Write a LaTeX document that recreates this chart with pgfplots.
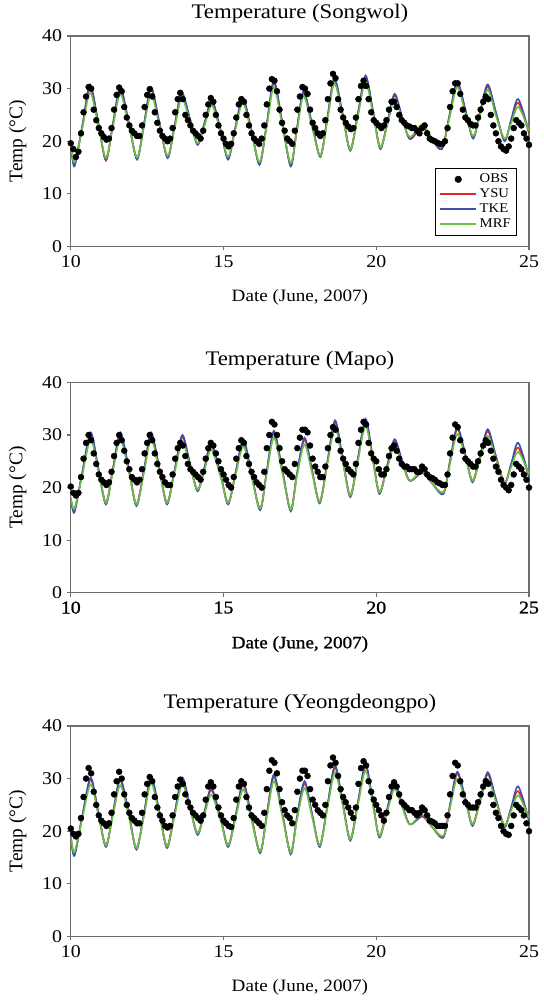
\documentclass[border=0pt]{standalone}
\usepackage{fontspec}
\setmainfont[FakeStretch=1.1]{Liberation Serif}
\newfontfamily\ylabelfont{Liberation Serif}
\newfontfamily\heavyfont[FakeStretch=1.1, FakeBold=1.2]{Liberation Serif}
\usepackage{pgfplots}
\usepackage{pgfplotstable}
\pgfplotsset{compat=1.18}
\definecolor{ysuRed}{RGB}{232,40,40}
\definecolor{tkeBlue}{RGB}{60,80,170}
\definecolor{mrfGreen}{RGB}{108,190,70}
\definecolor{frameGray}{RGB}{110,110,110}

% model runs, columns: day, YSU, TKE, MRF
\pgfplotstableread{
x ysu tke mrf
10.00 19.5 19.5 19.5
10.12 15.8 15.2 16.0
10.38 23.0 23.0 22.5
10.63 30.4 30.8 29.3
10.90 23.5 23.5 23.0
11.15 16.3 16.5 16.8
11.38 23.3 23.3 22.8
11.62 29.9 30.3 29.0
11.90 23.4 23.4 23.0
12.17 16.7 16.5 16.9
12.40 23.4 23.4 22.9
12.63 29.9 30.3 29.0
12.90 23.5 23.5 23.0
13.17 17.0 16.8 17.2
13.40 23.0 23.0 22.5
13.63 28.9 29.3 28.2
13.90 24.2 24.3 23.8
14.15 19.5 19.3 19.6
14.38 23.5 23.5 23.0
14.62 27.5 27.8 26.8
14.90 22.2 22.2 21.8
15.15 16.8 16.5 17.0
15.38 22.4 22.4 22.0
15.63 28.0 28.3 27.3
15.92 21.9 21.9 21.5
16.18 15.8 15.5 16.0
16.42 23.5 23.5 23.0
16.65 31.1 31.5 30.3
16.93 23.3 23.3 22.8
17.20 15.5 15.2 15.8
17.40 22.3 22.3 21.8
17.62 29.2 29.5 28.6
17.90 23.2 23.2 22.6
18.17 17.2 17.0 17.2
18.40 24.5 24.5 24.0
18.63 31.6 32.0 31.0
18.90 25.1 25.1 24.6
19.15 18.4 18.2 18.4
19.40 25.3 25.3 24.8
19.65 32.1 32.5 31.3
19.90 25.5 25.5 25.0
20.13 18.8 18.5 18.8
20.37 23.7 23.7 23.3
20.60 28.7 29.0 28.0
20.85 24.5 24.5 24.0
21.10 20.4 20.5 20.8
21.50 22.7 22.8 23.2
21.80 20.6 20.6 20.8
22.15 18.7 18.5 19.0
22.40 25.0 25.0 24.5
22.65 31.0 31.3 30.3
22.92 25.9 25.9 25.3
23.17 20.7 20.5 21.0
23.40 25.6 25.6 25.0
23.65 30.4 30.8 29.8
23.92 25.4 25.4 24.8
24.20 20.2 20.0 20.5
24.42 24.0 24.2 23.5
24.65 27.3 28.0 26.5
25.00 21.5 21.7 22.0
}\songwol

\pgfplotstableread{
x ysu tke mrf
10.00 18.0 18.0 18.2
10.12 15.7 15.3 16.0
10.38 23.0 23.0 22.5
10.65 30.1 30.5 29.2
10.90 23.7 23.7 23.2
11.15 17.1 16.8 17.1
11.38 23.6 23.6 23.1
11.62 30.1 30.5 29.2
11.90 23.5 23.5 23.0
12.15 16.8 16.5 16.8
12.40 23.5 23.5 23.0
12.63 30.1 30.5 29.2
12.90 23.6 23.6 23.1
13.15 17.1 16.8 17.1
13.40 23.4 23.4 22.9
13.65 29.6 30.0 28.7
13.90 24.6 24.6 24.1
14.15 19.6 19.3 19.6
14.38 23.9 23.9 23.4
14.60 28.1 28.5 27.2
14.90 22.6 22.6 22.1
15.15 17.1 16.8 17.1
15.40 23.0 23.0 22.5
15.65 28.8 29.2 27.9
15.92 22.4 22.4 21.9
16.20 16.0 15.7 16.0
16.42 23.3 23.3 22.8
16.65 30.4 30.8 29.5
16.93 23.1 23.1 22.6
17.20 15.8 15.5 15.8
17.40 22.5 22.5 22.0
17.65 29.1 29.5 28.2
17.90 23.2 23.2 22.7
18.15 17.3 17.0 17.3
18.40 24.9 24.9 24.4
18.65 32.4 32.8 31.5
18.90 25.5 25.5 25.0
19.15 18.5 18.2 18.5
19.40 25.6 25.6 25.1
19.65 32.7 33.1 31.8
19.88 25.9 25.9 25.4
20.10 19.1 18.8 19.1
20.35 24.0 24.0 23.5
20.60 28.8 29.2 27.9
20.85 25.0 25.0 24.5
21.10 21.3 21.3 21.3
21.50 22.8 23.0 23.2
21.80 21.0 21.0 21.0
22.20 19.1 18.8 19.1
22.42 25.2 25.2 24.7
22.65 31.1 31.5 30.2
22.92 26.2 26.2 25.7
23.15 21.3 21.0 21.3
23.40 26.0 26.0 25.5
23.65 30.7 31.1 29.8
23.92 25.9 25.9 25.4
24.20 21.0 20.7 21.0
24.42 24.5 24.6 24.0
24.65 27.6 28.5 26.8
25.00 22.0 22.0 22.5
}\mapo

\pgfplotstableread{
x ysu tke mrf
10.00 19.0 19.0 19.2
10.12 15.7 15.3 16.0
10.38 23.0 23.0 22.5
10.65 29.8 30.2 28.9
10.90 23.6 23.6 23.1
11.15 17.3 17.0 17.3
11.38 23.5 23.5 23.0
11.62 29.6 30.0 28.7
11.90 23.3 23.3 22.8
12.15 16.8 16.5 16.8
12.40 23.5 23.5 23.0
12.63 30.1 30.5 29.2
12.90 23.6 23.6 23.1
13.15 17.1 16.8 17.1
13.40 23.5 23.5 23.0
13.65 29.8 30.2 28.9
13.90 24.7 24.7 24.2
14.15 19.6 19.3 19.6
14.38 23.8 23.8 23.3
14.60 27.8 28.2 26.9
14.90 22.6 22.6 22.1
15.15 17.3 17.0 17.3
15.40 23.1 23.1 22.6
15.65 28.9 29.3 28.0
15.92 22.5 22.5 22.0
16.20 16.1 15.8 16.1
16.42 23.3 23.3 22.8
16.65 30.4 30.8 29.5
16.93 23.2 23.2 22.7
17.20 15.9 15.6 15.9
17.40 22.5 22.5 22.0
17.65 29.1 29.5 28.2
17.90 23.2 23.2 22.7
18.15 17.3 17.0 17.3
18.40 24.8 24.8 24.3
18.65 32.1 32.5 31.2
18.90 25.4 25.4 24.9
19.15 18.5 18.2 18.5
19.40 25.5 25.5 25.0
19.65 32.4 32.8 31.5
19.88 25.8 25.8 25.3
20.10 19.1 18.8 19.1
20.35 24.0 24.0 23.5
20.60 28.9 29.3 28.0
20.85 25.0 25.0 24.5
21.10 21.3 21.3 21.3
21.50 22.8 23.0 23.2
21.80 21.0 21.0 21.0
22.20 19.1 18.8 19.1
22.42 25.1 25.1 24.6
22.65 30.9 31.3 30.0
22.92 26.1 26.1 25.6
23.15 21.3 21.0 21.3
23.40 26.0 26.0 25.5
23.65 30.8 31.2 29.9
23.92 26.0 26.0 25.5
24.20 21.1 20.8 21.1
24.42 24.5 24.6 24.0
24.65 27.6 28.5 26.8
25.00 22.0 22.0 22.5
}\yeong

% observations, one row per day, one column per hour (0, 2, ..., 22 h)
\pgfplotstableread{
day h0 h2 h4 h6 h8 h10 h12 h14 h16 h18 h20 h22
10 19.6 18.5 17.0 18.0 21.5 25.5 28.5 30.3 30.0 26.0 24.0 22.5
11 21.5 20.8 20.3 20.5 22.5 26.0 28.8 30.2 29.5 26.5 24.5 23.0
12 22.0 21.5 21.0 21.0 23.0 26.5 28.8 29.9 28.5 25.5 23.5 22.0
13 21.0 20.5 20.0 20.5 22.5 25.5 28.0 29.2 28.0 25.0 24.0 23.0
14 22.0 21.5 21.0 20.5 22.0 25.0 27.0 28.2 27.5 25.0 23.0 21.5
15 20.5 19.5 19.0 19.5 21.5 24.5 27.0 28.0 27.5 25.0 23.0 21.5
16 20.5 20.0 19.5 20.5 23.0 27.0 30.0 31.8 31.5 29.5 26.0 23.5
17 22.0 20.5 20.0 19.5 22.0 26.0 28.5 30.3 30.0 29.0 26.0 23.5
18 22.5 21.5 21.0 21.5 24.0 28.0 31.0 32.8 32.0 28.0 26.0 24.5
19 23.5 22.8 22.3 22.5 24.5 28.0 30.5 31.5 30.5 28.0 25.5 24.0
20 23.5 23.0 22.5 23.0 24.0 26.0 27.5 27.5 26.5 25.0 24.0 23.5
21 23.0 22.8 22.5 22.5 22.0 21.5 22.5 23.0 21.5 20.5 20.2 20.0
22 19.7 19.5 19.5 20.0 22.5 26.5 29.5 31.0 31.0 29.0 26.0 24.5
23 24.0 23.3 23.0 23.0 24.5 26.0 27.5 28.5 28.0 25.0 23.0 21.5
24 20.0 19.0 18.5 18.2 19.0 20.5 22.5 24.0 23.5 23.0 21.5 20.5
25 19.3 nan nan nan nan nan nan nan nan nan nan nan
}\obsSongwol

\pgfplotstableread{
day h0 h2 h4 h6 h8 h10 h12 h14 h16 h18 h20 h22
10 20.2 19.0 18.5 19.0 22.0 25.5 28.5 30.0 29.0 26.5 24.5 22.5
11 21.5 21.0 20.5 21.0 23.0 26.0 28.5 30.0 29.0 27.0 25.0 23.5
12 22.0 21.5 21.0 21.5 23.5 26.5 28.5 30.0 29.0 26.5 24.5 23.0
13 22.0 21.0 20.5 20.5 22.5 25.5 27.5 28.5 28.0 26.0 24.5 23.5
14 23.0 22.5 22.0 21.5 23.0 25.5 27.5 28.5 28.0 26.5 25.0 23.5
15 22.5 21.5 20.5 20.0 22.0 25.5 27.5 29.0 28.5 26.0 24.5 23.0
16 22.0 21.0 20.5 20.0 23.0 27.5 30.0 32.5 32.0 30.0 27.5 25.0
17 23.5 23.0 22.5 22.0 24.5 27.5 29.5 31.0 31.0 30.5 28.0 25.5
18 24.0 23.0 22.0 22.0 24.0 27.5 30.0 31.5 31.0 29.0 27.0 25.5
19 24.5 23.5 23.0 22.5 24.5 28.5 31.0 32.5 32.0 28.5 26.5 25.5
20 25.0 23.5 22.5 22.5 23.5 26.0 27.5 28.0 27.0 25.5 24.5 24.0
21 24.0 23.5 23.5 23.5 23.0 23.0 24.0 23.5 22.5 22.0 21.8 21.5
22 21.0 20.8 20.5 20.5 22.5 26.5 29.5 32.0 31.5 29.0 27.0 25.5
23 25.0 24.5 24.0 24.0 25.0 26.5 28.0 29.0 28.5 27.0 25.5 24.0
24 23.0 21.5 20.5 20.0 19.5 20.5 22.5 24.5 24.0 23.5 22.5 21.5
25 20.0 nan nan nan nan nan nan nan nan nan nan nan
}\obsMapo

\pgfplotstableread{
day h0 h2 h4 h6 h8 h10 h12 h14 h16 h18 h20 h22
10 20.5 19.5 19.0 19.5 22.5 26.5 30.0 32.0 31.0 27.5 25.0 23.0
11 22.0 21.5 21.0 21.5 23.5 27.0 29.5 31.3 30.0 27.0 25.0 23.5
12 22.5 22.0 21.5 21.5 23.5 27.0 29.0 30.3 29.5 26.5 24.5 23.0
13 22.0 21.0 20.7 21.0 23.0 26.5 28.5 29.8 29.0 27.0 25.5 24.5
14 23.5 23.0 22.5 22.0 23.0 26.0 28.5 29.3 28.5 26.5 24.5 23.0
15 22.0 21.5 21.0 20.8 22.5 26.0 28.5 29.5 29.0 26.5 24.5 23.0
16 22.5 22.0 21.5 21.0 23.5 28.0 31.5 33.5 33.0 31.0 28.0 25.5
17 24.0 23.0 22.5 21.5 24.0 27.5 30.0 31.5 31.5 30.5 28.0 26.0
18 25.0 24.0 23.5 23.0 25.0 29.5 32.5 34.0 33.0 30.5 28.0 26.5
19 25.5 24.5 23.5 22.5 24.5 29.0 32.0 33.3 32.5 29.5 27.5 26.0
20 25.0 24.0 23.0 22.0 23.5 26.5 28.5 29.3 28.5 27.0 25.5 25.0
21 24.5 24.0 24.0 23.5 23.0 23.5 24.5 24.0 23.0 22.0 21.8 21.5
22 21.0 21.0 21.0 21.0 23.0 27.0 30.5 33.0 32.5 29.5 27.0 25.5
23 25.0 24.5 24.5 24.5 25.5 27.0 28.5 29.5 29.0 27.0 25.0 23.5
24 22.5 21.0 20.0 19.5 19.3 21.0 23.0 25.0 24.5 24.0 23.0 21.5
25 20.0 nan nan nan nan nan nan nan nan nan nan nan
}\obsYeong

\pgfplotsset{
  tempax/.style={
    width=343pt, height=157.5pt, scale only axis,
    xmin=10, xmax=25, ymin=0, ymax=40,
    xtick={10,15,20,25}, ytick={0,10,20,30,40},
    tick align=outside, xtick pos=lower, ytick pos=left,
    major tick length=3pt,
    axis line style={draw=frameGray, line width=0.9pt},
    tick style={draw=frameGray, line width=0.9pt},
    /pgf/number format/assume math mode=true,
    tick label style={font=\fontsize{13.5}{16}\selectfont},
    xlabel style={font=\fontsize{13}{16}\selectfont},
    ylabel style={font=\ylabelfont\fontsize{14.5}{17}\selectfont},
    title style={font=\fontsize{15.5}{18}\selectfont},
    xlabel={Date (June, 2007)},
    ylabel={Temp (°C)},
    xlabel shift=10pt, ylabel shift=5pt,
    unbounded coords=discard,
  },
  ysuline/.style={ysuRed, line width=1.2pt, smooth, tension=0.5, forget plot},
  tkeline/.style={tkeBlue, line width=1.2pt, smooth, tension=0.5, forget plot},
  mrfline/.style={mrfGreen, line width=1.2pt, smooth, tension=0.5, forget plot},
  obsdots/.style={only marks, mark=*, mark size=2.2pt, black, forget plot},
  obslegend/.style={legend image code/.code={\fill[black] (0.48cm,0cm) circle (2.4pt);}},
  linelegend/.style={legend image code/.code={\draw[##1] (0cm,0cm) -- (0.95cm,0cm);}},
}

\begin{document}
\begin{tikzpicture}
% ---------- Songwol ----------
\begin{axis}[tempax, at={(0,0)},
  title={Temperature (Songwol)},
  legend style={at={(0.974,0.052)}, anchor=south east, draw=black, line width=0.5pt,
    font=\fontsize{10}{11.5}\selectfont, row sep=-1pt, inner sep=2.5pt},
  legend cell align=left]
\addlegendimage{obslegend}
\addlegendentry{OBS}
\addlegendimage{ysuRed, line width=1.4pt, linelegend}
\addlegendentry{YSU}
\addlegendimage{tkeBlue, line width=1.4pt, linelegend}
\addlegendentry{TKE}
\addlegendimage{mrfGreen, line width=1.4pt, linelegend}
\addlegendentry{MRF}
\addplot[ysuline] table[x=x, y=ysu] {\songwol};
\addplot[tkeline] table[x=x, y=tke] {\songwol};
\addplot[mrfline] table[x=x, y=mrf] {\songwol};
\pgfplotsinvokeforeach{0,2,...,22}{
  \addplot[obsdots] table[x expr=\thisrow{day}+#1/24, y=h#1] {\obsSongwol};
}
\end{axis}

% ---------- Mapo (heavier x labels, as in the figure) ----------
\begin{axis}[tempax, at={(0,-259.3pt)},
  title={Temperature (Mapo)},
  xticklabel style={font=\heavyfont\fontsize{13.5}{16}\selectfont},
  xlabel style={font=\heavyfont\fontsize{13}{16}\selectfont}]
\addplot[ysuline] table[x=x, y=ysu] {\mapo};
\addplot[tkeline] table[x=x, y=tke] {\mapo};
\addplot[mrfline] table[x=x, y=mrf] {\mapo};
\pgfplotsinvokeforeach{0,2,...,22}{
  \addplot[obsdots] table[x expr=\thisrow{day}+#1/24, y=h#1] {\obsMapo};
}
\end{axis}

% ---------- Yeongdeongpo ----------
\begin{axis}[tempax, at={(0,-516.5pt)},
  title={Temperature (Yeongdeongpo)}]
\addplot[ysuline] table[x=x, y=ysu] {\yeong};
\addplot[tkeline] table[x=x, y=tke] {\yeong};
\addplot[mrfline] table[x=x, y=mrf] {\yeong};
\pgfplotsinvokeforeach{0,2,...,22}{
  \addplot[obsdots] table[x expr=\thisrow{day}+#1/24, y=h#1] {\obsYeong};
}
\end{axis}
% left margin as in the reference
\path (-53pt,0pt);
\end{tikzpicture}
\end{document}
